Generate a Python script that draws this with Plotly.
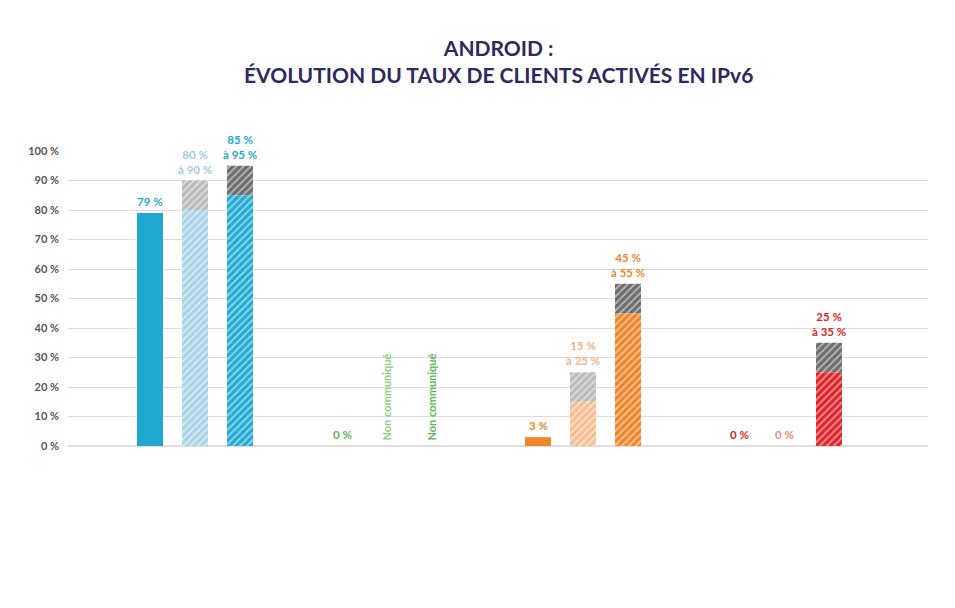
import plotly.graph_objects as go

operators = ["Bouygues", "Free", "Orange", "SFR"]
periods = ["mi-<br>2019", "mi-<br>2020*", "mi-<br>2022*"]
low = {"Bouygues": [79, 80, 85], "Free": [0, None, None], "Orange": [3, 15, 45], "SFR": [0, 0, 25]}
high = {"Bouygues": [79, 90, 95], "Free": [0, None, None], "Orange": [3, 25, 55], "SFR": [0, 0, 35]}
labels = {"Bouygues": ["79 %", "80 %<br>à 90 %", "85 %<br>à 95 %"],
          "Free": ["0 %", "Non communiqué", "Non communiqué"],
          "Orange": ["3 %", "15 %<br>à 25 %", "45 %<br>à 55 %"],
          "SFR": ["0 %", "0 %", "25 %<br>à 35 %"]}
yticks = list(range(0, 101, 10))

colors = {"Bouygues": ["#1fa8cf", "#a9d3e6", "#22abd2"],
          "Free": ["#5cb54f", "#8ccc7f", "#5cb54f"],
          "Orange": ["#f0862a", "#f6bf92", "#f0862a"],
          "SFR": ["#e0242b", "#ee8a80", "#e0242b"]}
textcol = {"Bouygues": ["#1fa8cf", "#9fcbe0", "#1fa8cf"],
           "Free": ["#5cb54f", "#8ccc7f", "#5cb54f"],
           "Orange": ["#f0862a", "#f4b183", "#f0862a"],
           "SFR": ["#e0242b", "#ee8a80", "#e0242b"]}
topgray = ["#bbbbbb", "#bbbbbb", "#6d6d6d"]

group_x = [187, 379, 575, 776]
step = 45
navy = "#2e2a5c"
fig = go.Figure()
ann = []
shapes = []
for g, op in enumerate(operators):
    cx = group_x[g]
    for i in range(3):
        x = cx + (i - 1) * step
        lo, hi = low[op][i], high[op][i]
        if lo is not None and lo > 0:
            solid = (i == 0)
            fig.add_trace(go.Bar(x=[x], y=[lo], base=[0], width=26,
                marker=dict(color=colors[op][i], line_width=0,
                            pattern=dict(shape="" if solid else "/", fgcolor="white",
                                         bgcolor=colors[op][i], size=5, solidity=0.35)),
                showlegend=False, hoverinfo="skip"))
            if hi > lo:
                fig.add_trace(go.Bar(x=[x], y=[hi - lo], base=[lo], width=26,
                    marker=dict(color=topgray[i], line_width=0,
                                pattern=dict(shape="/", fgcolor="white",
                                             bgcolor=topgray[i], size=5, solidity=0.35)),
                    showlegend=False, hoverinfo="skip"))
        lab = labels[op][i]
        if lab == "Non communiqué":
            ann.append(dict(x=x, y=1, xref="x", yref="y", text="<b>" + lab + "</b>", textangle=-90,
                            showarrow=False, yanchor="bottom", font=dict(size=11, color=textcol[op][i])))
        else:
            top = hi if hi else 0
            ann.append(dict(x=x, y=top, xref="x", yref="y", text="<b>" + lab + "</b>",
                            showarrow=False, yanchor="bottom", yshift=3, xanchor="center",
                            font=dict(size=11.5, color=textcol[op][i])))
        ann.append(dict(x=x, y=-4, xref="x", yref="y", text="<b>" + periods[i] + "</b>",
                        showarrow=False, yanchor="top", font=dict(size=9.5, color="#555555")))
    bc = colors[op][0]
    x0, x1 = cx - 61, cx + 61
    yb = -16.5
    shapes.append(dict(type="line", xref="x", yref="y", x0=x0, x1=x1, y0=yb, y1=yb, line=dict(color=bc, width=2)))
    for xx in (x0, x1):
        shapes.append(dict(type="line", xref="x", yref="y", x0=xx, x1=xx, y0=yb, y1=yb + 1.5, line=dict(color=bc, width=2)))

# logos
cx = group_x[0]
shapes += [
    dict(type="circle", xref="x", yref="y", x0=cx - 10, x1=cx + 10, y0=-21, y1=-24, fillcolor="#22abd2", line_width=0),
    dict(type="circle", xref="x", yref="y", x0=cx - 18, x1=cx - 5, y0=-23.5, y1=-30, fillcolor="#1c5fa8", line_width=0),
    dict(type="circle", xref="x", yref="y", x0=cx + 5, x1=cx + 18, y0=-23.5, y1=-30, fillcolor="#f06a2c", line_width=0),
    dict(type="rect", xref="x", yref="y", x0=group_x[2] - 17, x1=group_x[2] + 19, y0=-20, y1=-32.5, fillcolor="#f7811f", line_width=0),
    dict(type="rect", xref="x", yref="y", x0=group_x[3] - 12, x1=group_x[3] + 12, y0=-21, y1=-31, fillcolor="#d7202b", line_width=0),
]
ann += [
    dict(x=group_x[1], y=-25.5, xref="x", yref="y", text="<i>free</i>", showarrow=False,
         font=dict(family="Liberation Serif", size=24, color="#d6262f")),
    dict(x=group_x[2] - 1, y=-31.5, xref="x", yref="y", text="orange", showarrow=False, yanchor="bottom",
         font=dict(size=7, color="white")),
    dict(x=group_x[3], y=-26, xref="x", yref="y", text="SFR", showarrow=False,
         font=dict(size=12, color="white")),
    dict(x=0.5, y=1.4, xref="paper", yref="paper", text="<b>ANDROID :<br>ÉVOLUTION DU TAUX DE CLIENTS ACTIVÉS EN IPv6</b>",
         showarrow=False, xanchor="center", yanchor="top", font=dict(size=21, color=navy)),
    dict(x=112, y=-41, xref="x", yref="y", text="<b>* Chiffres susceptibles d'évoluer</b>", showarrow=False,
         xanchor="left", font=dict(size=11, color="#555555")),
    dict(x=593, y=-41, xref="x", yref="y", text="<b>Source :</b> données à fin juin 2019, recueillies par l'Arcep<br>            auprès des opérateurs",
         showarrow=False, xanchor="left", align="left", font=dict(size=11, color="#666666")),
]

fig.update_layout(
    width=955, height=608, plot_bgcolor="white", paper_bgcolor="white",
    margin=dict(l=60, r=35, t=143, b=170), barmode="overlay",
    font=dict(family="Lato, Open Sans, sans-serif", color="#555555"),
    xaxis=dict(range=[60, 920], visible=False, fixedrange=True),
    yaxis=dict(range=[0, 100], tickvals=yticks, ticktext=[f"<b>{v} %</b>" for v in yticks],
               gridcolor="#dddddd", gridwidth=1, zeroline=True, zerolinecolor="#dddddd",
               tickfont=dict(size=11, color="#555555"), ticks="", ticklabelstandoff=8),
    annotations=ann, shapes=shapes,
)
fig.write_html("out.html")
